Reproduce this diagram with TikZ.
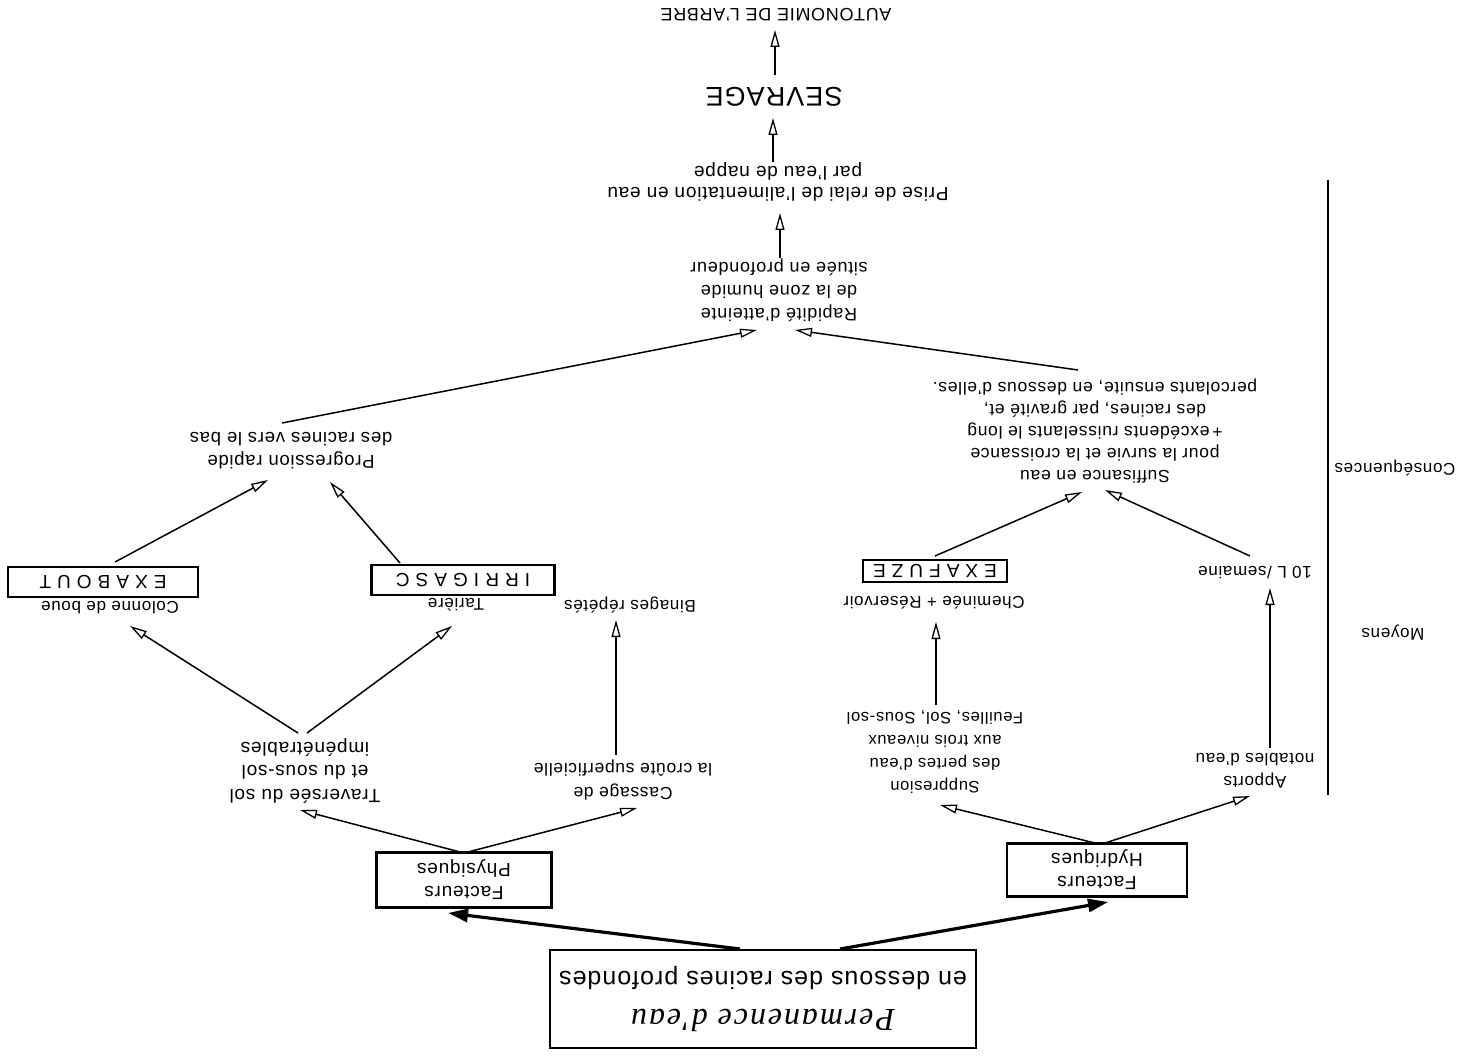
\documentclass[tikz,border=0pt]{standalone}
\usepackage{fontspec}
\setmainfont{Liberation Sans}[LetterSpace=4]
\newfontfamily\serifit{Liberation Serif}[LetterSpace=6]
\usetikzlibrary{arrows.meta,calc}
\begin{document}
\begin{tikzpicture}[x=1pt,y=-1pt,
  txt/.style={rotate=180,align=center,inner sep=0pt,font=\fontsize{17}{22.5}\selectfont},
  box/.style={rotate=180,draw,line width=2.8pt,inner sep=0pt,align=center,font=\fontsize{19}{22}\selectfont},
  oarr/.style={line width=1.5pt,-{Triangle[open,length=17pt,width=9pt,line width=1.3pt]}},
  thk/.style={line width=3.2pt,-{Triangle[length=20pt,width=13pt]}},
  plain/.style={line width=1.5pt}]
\useasboundingbox[fill=white] (0,0) rectangle (1461,1056);

% boxes
\node[box,minimum width=426pt,minimum height=98pt,font=\fontsize{25}{30}\selectfont] (perm) at (763,999)
  {{\serifit\itshape\fontsize{32}{36}\selectfont Permanence d'eau}\\[8pt] en dessous des racines profondes};
\node[box,minimum width=180pt,minimum height=53pt,font=\fontsize{19}{23}\selectfont] (hyd) at (1097,870) {Facteurs\\Hydriques};
\node[box,minimum width=175pt,minimum height=55pt,font=\fontsize{19}{23}\selectfont] (phys) at (464,880) {Facteurs\\Physiques};

% moyens
\node[txt] (app) at (1255,771) {Apports\\notables d'eau};
\node[txt,font=\fontsize{16.5}{23}\selectfont] (supp) at (935,752) {Suppresion\\des pertes d'eau\\aux trois niveaux\\Feuilles, Sol, Sous-sol};
\node[txt,font=\fontsize{17.5}{24}\selectfont] (cass) at (623,780) {Cassage de\\la croûte superficielle};
\node[txt,font=\fontsize{19}{23.5}\selectfont] (trav) at (305,771) {Traversée du sol\\et du sous-sol\\impénétrables};

\node[txt] (tenl) at (1255,573) {10 L /semaine};
\node[txt] (chem) at (934,603) {Cheminée + Réservoir};
\node[box,minimum width=144pt,minimum height=22pt,line width=2.6pt] (exaf) at (935,571) {E X A F U Z E};
\node[txt] (bin) at (630,605) {Binages répétés};
\node[txt] (tar) at (456,605) {Tarière};
\node[box,minimum width=183pt,minimum height=30pt] (irr) at (463,580) {I R R I G A S C};
\node[txt] (col) at (110,608) {Colonne de boue};
\node[box,minimum width=190pt,minimum height=30pt] (exab) at (103,582) {E X A B O U T};

% consequences
\node[txt,font=\fontsize{17.5}{22}\selectfont] (suff) at (1095,431)
  {Suffisance en eau\\pour la survie et la croissance\\+\,excédents ruisselants le long\\des racines, par gravité et,\\percolants ensuite, en dessous d'elles.};
\node[txt,font=\fontsize{18.5}{23}\selectfont] (prog) at (291,451) {Progression rapide\\des racines vers le bas};
\node[txt,font=\fontsize{18}{23}\selectfont] (rap) at (779,290) {Rapidité d'atteinte\\de la zone humide\\située en profondeur};
\node[txt,font=\fontsize{19}{21}\selectfont] (prise) at (778,182) {Prise de relai de l'alimentation en eau\\par l'eau de nappe};
\node[txt,font=\fontsize{27}{30}\selectfont] (sev) at (774,97) {SEVRAGE};
\node[txt,font=\fontsize{18}{20}\selectfont] (auto) at (776,15) {AUTONOMIE DE L'ARBRE};

% side labels
\node[txt,font=\fontsize{17}{20}\selectfont] (moy) at (1393,633) {Moyens};
\node[txt,font=\fontsize{17}{20}\selectfont] (cons) at (1395,468) {Conséquences};
\coordinate (sideT) at (1328,180);
\coordinate (sideB) at (1328,795);
\draw[plain] (sideT) -- (sideB);

% connectors
\draw[thk] ($(perm)+(-23,-50)$) -- ($(phys)+(-16,33)$);
\draw[thk] ($(perm)+(77,-50)$) -- ($(hyd)+(11,32)$);

\draw[oarr] ($(hyd)+(8,-27)$) -- ($(app)+(-5,25)$);
\draw[oarr] ($(hyd)+(-2,-27)$) -- ($(supp)+(5,53)$);
\draw[oarr] ($(app)+(15,-23)$) -- ($(tenl)+(15,15)$);
\draw[oarr] ($(supp)+(1,-47)$) -- ($(chem)+(2,19)$);
\draw[oarr] ($(exaf)+(0,-15)$) -- ($(suff)+(-13,61)$);
\draw[oarr] ($(tenl)+(-5,-17)$) -- ($(suff)+(10,59)$);
\draw[oarr] ($(suff)+(-17,-61)$) -- ($(rap)+(16,40)$);
\draw[oarr] ($(prog)+(-9,-28)$) -- ($(rap)+(-22,40)$);
\draw[oarr] ($(exab)+(12,-20)$) -- ($(prog)+(-23,29)$);
\draw[oarr] ($(irr)+(-63,-17)$) -- ($(prog)+(39,31)$);
\draw[oarr] ($(rap)+(1,-32)$) -- ($(prise)+(2,31)$);
\draw[oarr] ($(prise)+(-5,-20)$) -- ($(sev)+(-1,21)$);
\draw[oarr] ($(sev)+(1,-22)$) -- ($(auto)+(-1,15)$);

\draw[oarr] ($(phys)+(-4,-28)$) -- ($(trav)+(-5,39)$);
\draw[oarr] ($(phys)+(4,-28)$) -- ($(cass)+(14,28)$);
\draw[oarr] ($(trav)+(2,-38)$) -- ($(tar)+(-4,21)$);
\draw[oarr] ($(trav)+(-7,-38)$) -- ($(col)+(20,18)$);
\draw[oarr] ($(cass)+(-7,-25)$) -- ($(bin)+(-14,15)$);
\end{tikzpicture}
\end{document}
